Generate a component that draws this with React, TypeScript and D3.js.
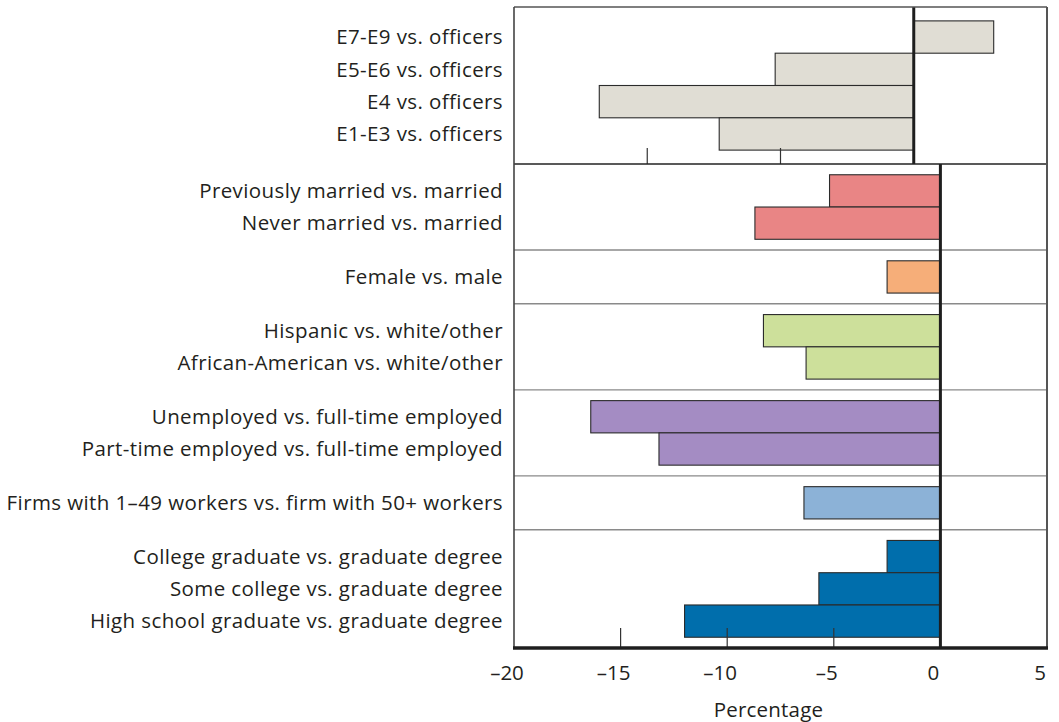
import React from "react";
import * as d3 from "d3";

const topCategories = [
  "E7-E9 vs. officers",
  "E5-E6 vs. officers",
  "E4 vs. officers",
  "E1-E3 vs. officers",
];
const topValues = [3.0, -5.2, -11.8, -7.3];
const topColor = "#e0ddd4";

const groupNames = ["marital", "gender", "race", "employment", "firm", "education"];
const groupColors = ["#e98585", "#f6ae79", "#cde09b", "#a48cc3", "#8cb2d7", "#006eac"];
const maritalCategories = ["Previously married vs. married", "Never married vs. married"];
const maritalValues = [-5.2, -8.7];
const genderCategories = ["Female vs. male"];
const genderValues = [-2.5];
const raceCategories = ["Hispanic vs. white/other", "African-American vs. white/other"];
const raceValues = [-8.3, -6.3];
const employmentCategories = [
  "Unemployed vs. full-time employed",
  "Part-time employed vs. full-time employed",
];
const employmentValues = [-16.4, -13.2];
const firmCategories = ["Firms with 1\u201349 workers vs. firm with 50+ workers"];
const firmValues = [-6.4];
const educationCategories = [
  "College graduate vs. graduate degree",
  "Some college vs. graduate degree",
  "High school graduate vs. graduate degree",
];
const educationValues = [-2.5, -5.7, -12.0];

const topDomain = [-15, 5];
const topTicks = [-10, -5];
const bottomDomain = [-20, 5];
const bottomTicks = [-20, -15, -10, -5, 0, 5];
const bottomInnerTicks = [-15, -10, -5];
const tickLabels = ["\u201320", "\u201315", "\u201310", "\u20135", "0", "5"];
const axisTitle = "Percentage";

const FONT = "'Open Sans', 'Noto Sans', sans-serif";

export default function App() {
  const W = 1059;
  const H = 722;
  const left = 514;
  const right = 1047;
  const topY0 = 7;
  const topY1 = 164;
  const botY1 = 648;
  const labelX = 503;
  const fontSize = 20.5;
  const ls = 0.4;

  const xTop = d3.scaleLinear().domain(topDomain).range([left, right]);
  const xBot = d3.scaleLinear().domain(bottomDomain).range([left, right]);

  const yTop = d3
    .scaleBand<string>()
    .domain(topCategories)
    .range([topY0, topY1])
    .paddingInner(0)
    .paddingOuter(0.43);

  const groups = [
    { cats: maritalCategories, vals: maritalValues },
    { cats: genderCategories, vals: genderValues },
    { cats: raceCategories, vals: raceValues },
    { cats: employmentCategories, vals: employmentValues },
    { cats: firmCategories, vals: firmValues },
    { cats: educationCategories, vals: educationValues },
  ].map((g, i) => ({ ...g, name: groupNames[i], color: groupColors[i] }));

  const pad = 1 / 3;
  const totalUnits = d3.sum(groups, (g) => g.cats.length + 2 * pad);
  const yU = d3.scaleLinear().domain([0, totalUnits]).range([topY1, botY1]);

  const rows: { cat: string; val: number; color: string; u0: number }[] = [];
  const separators: number[] = [];
  let u = 0;
  groups.forEach((g, gi) => {
    if (gi > 0) separators.push(u);
    u += pad;
    g.cats.forEach((c, i) => {
      rows.push({ cat: c, val: g.vals[i], color: g.color, u0: u });
      u += 1;
    });
    u += pad;
  });
  const bh = yU(1) - yU(0);

  const textFill = "#231f20";
  const barStroke = "#2b2b2b";

  return (
    <svg width={W} height={H} style={{ display: "block", position: "absolute", left: 0, top: 0 }}>
      <rect x={0} y={0} width={W} height={H} fill="#fff" />

      {separators.map((s, i) => (
        <line key={"sep" + i} x1={left} x2={right} y1={yU(s)} y2={yU(s)} stroke="#8a8a8a" strokeWidth={1.4} />
      ))}

      {topCategories.map((c, i) => {
        const v = topValues[i];
        const x0 = xTop(Math.min(0, v));
        const x1 = xTop(Math.max(0, v));
        return (
          <rect
            key={"tb" + i}
            x={x0}
            y={yTop(c)!}
            width={x1 - x0}
            height={yTop.bandwidth()}
            fill={topColor}
            stroke={barStroke}
            strokeWidth={1.1}
          />
        );
      })}
      {topCategories.map((c, i) => (
        <text
          key={"tl" + i}
          x={labelX}
          y={yTop(c)! + yTop.bandwidth() / 2}
          dy="0.35em"
          textAnchor="end"
          fontFamily={FONT}
          fontSize={fontSize}
          letterSpacing={ls}
          fill={textFill}
        >
          {c}
        </text>
      ))}

      {rows.map((r, i) => {
        const x0 = xBot(Math.min(0, r.val));
        const x1 = xBot(Math.max(0, r.val));
        return (
          <rect
            key={"bb" + i}
            x={x0}
            y={yU(r.u0)}
            width={x1 - x0}
            height={bh}
            fill={r.color}
            stroke={barStroke}
            strokeWidth={1.1}
          />
        );
      })}
      {rows.map((r, i) => (
        <text
          key={"bl" + i}
          x={labelX}
          y={yU(r.u0 + 0.5)}
          dy="0.35em"
          textAnchor="end"
          fontFamily={FONT}
          fontSize={fontSize}
          letterSpacing={ls}
          fill={textFill}
        >
          {r.cat}
        </text>
      ))}

      {topTicks.map((t) => (
        <line key={"tt" + t} x1={xTop(t)} x2={xTop(t)} y1={topY1 - 16} y2={topY1} stroke="#333" strokeWidth={1.2} />
      ))}
      {bottomInnerTicks.map((t) => (
        <line key={"bt" + t} x1={xBot(t)} x2={xBot(t)} y1={botY1 - 20} y2={botY1} stroke="#333" strokeWidth={1.2} />
      ))}

      <line x1={xTop(0)} x2={xTop(0)} y1={topY0} y2={topY1} stroke="#1e1e1e" strokeWidth={3} />
      <line x1={xBot(0)} x2={xBot(0)} y1={topY1} y2={botY1} stroke="#1e1e1e" strokeWidth={3} />

      <line x1={left} x2={right} y1={topY1} y2={topY1} stroke="#222" strokeWidth={1.6} />

      <line x1={left} x2={right} y1={topY0} y2={topY0} stroke="#555" strokeWidth={1.5} />
      <line x1={left} x2={left} y1={topY0} y2={botY1} stroke="#444" strokeWidth={1.6} />
      <line x1={right} x2={right} y1={topY0} y2={botY1} stroke="#555" strokeWidth={2} />
      <line x1={left - 1} x2={right + 1} y1={botY1} y2={botY1} stroke="#1e1e1e" strokeWidth={3.5} />

      {bottomTicks.map((t, i) => (
        <text
          key={"ax" + t}
          x={xBot(t)}
          dx={-7}
          y={680}
          textAnchor="middle"
          fontFamily={FONT}
          fontSize={fontSize}
          fill={textFill}
        >
          {tickLabels[i]}
        </text>
      ))}
      <text
        x={(left + right) / 2 - 12}
        y={717}
        textAnchor="middle"
        fontFamily={FONT}
        fontSize={fontSize}
        letterSpacing={0.2}
        fill={textFill}
      >
        {axisTitle}
      </text>
    </svg>
  );
}
